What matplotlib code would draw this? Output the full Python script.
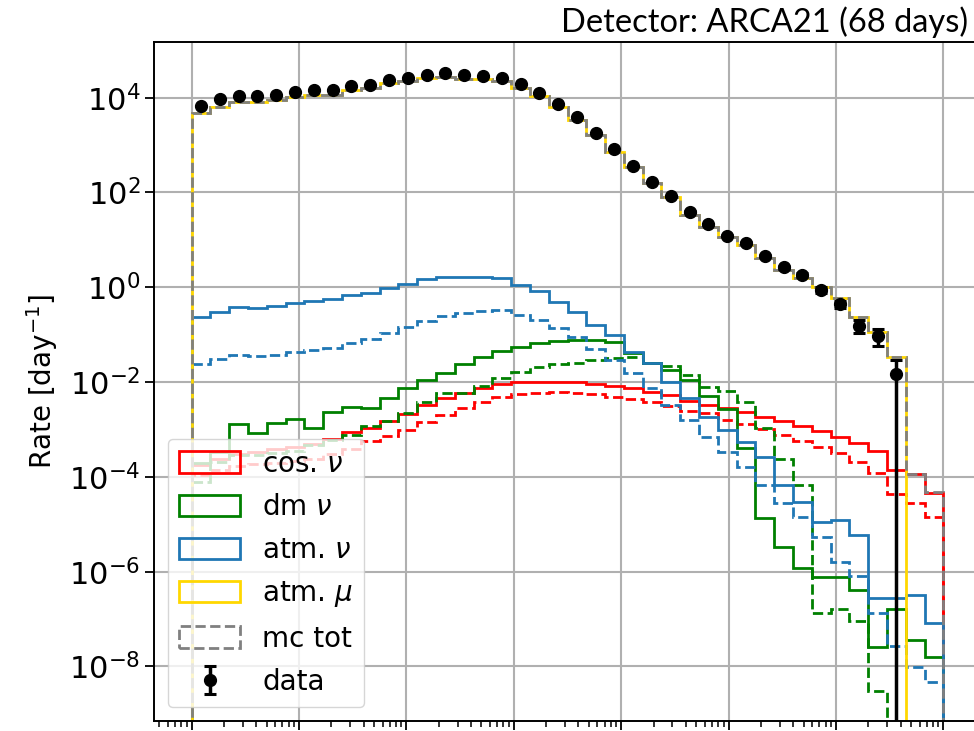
import numpy as np
import matplotlib.pyplot as plt
from matplotlib.ticker import LogLocator, NullLocator, FixedLocator

# 40 log-spaced energy bins over 7 decades (tick labels are cropped in the reference)
energy_edges = np.logspace(2, 9, 41)
energy_centres = np.sqrt(energy_edges[:-1] * energy_edges[1:])

# measured rate [1/day], 68 days of ARCA21 (last non-empty bin = 1 event)
data_rate = [6680, 9250, 11000, 10700, 11400, 13000, 14500, 14300, 17700, 18500,
             23300, 25600, 30100, 32700, 30500, 28700, 26400, 19200, 12400, 7300,
             3860, 1830, 828, 367, 169, 82.5, 39.4, 21.6, 12.3, 8.47,
             4.65, 2.64, 1.82, 0.877, 0.445, 0.153, 0.0953, 0.0147]
data_err = [9.9, 11.7, 12.7, 12.6, 12.9, 13.8, 14.6, 14.5, 16.1, 16.5,
            18.5, 19.4, 21.0, 21.9, 21.2, 20.5, 19.7, 16.8, 13.5, 10.4,
            7.5, 5.2, 3.5, 2.3, 1.58, 1.1, 0.76, 0.56, 0.42, 0.35,
            0.26, 0.20, 0.16, 0.114, 0.081, 0.047, 0.037, 0.0147]

atm_mu = [4690, 6270, 8240, 8240, 8930, 10500, 11400, 11400, 14500, 15800,
          20100, 22500, 25600, 26900, 24800, 24800, 22500, 15800, 11000, 6460,
          3380, 1630, 726, 350, 156, 78.5, 33.5, 19.0, 11.7, 7.82,
          4.17, 2.33, 1.58, 1.03, 0.586, 0.240, 0.112, 0.0333, 0, 0]

cos_nu = [1.78e-4, 2.40e-4, 3.02e-4, 3.39e-4, 3.80e-4, 4.17e-4, 5.01e-4, 6.31e-4, 8.91e-4, 1.07e-3,
          1.51e-3, 2.14e-3, 3.24e-3, 4.57e-3, 5.75e-3, 7.41e-3, 9.12e-3, 1.02e-2, 1.02e-2, 1.02e-2,
          1.00e-2, 8.91e-3, 8.32e-3, 7.41e-3, 6.31e-3, 5.25e-3, 3.98e-3, 3.31e-3, 2.88e-3, 2.29e-3,
          1.86e-3, 1.48e-3, 1.20e-3, 9.12e-4, 7.08e-4, 5.13e-4, 3.47e-4, 1.41e-4, 1.15e-4, 4.68e-5]
cos_nu_alt = [1.12e-4, 1.41e-4, 1.66e-4, 1.91e-4, 2.00e-4, 2.19e-4, 2.40e-4, 3.02e-4, 3.80e-4, 5.62e-4,
              7.41e-4, 9.77e-4, 1.45e-3, 2.04e-3, 2.82e-3, 3.89e-3, 4.90e-3, 5.62e-3, 6.03e-3, 6.31e-3,
              5.75e-3, 5.50e-3, 4.90e-3, 4.47e-3, 3.72e-3, 3.16e-3, 2.51e-3, 2.19e-3, 1.62e-3, 1.29e-3,
              1.00e-3, 7.59e-4, 5.75e-4, 4.37e-4, 3.16e-4, 2.09e-4, 1.20e-4, 4.37e-5, 2.88e-5, 1.45e-5]

dm_nu = [2.0e-4, 3.39e-4, 1.31e-3, 8.30e-4, 1.39e-3, 1.64e-3, 1.06e-3, 2.38e-3, 2.94e-3, 2.80e-3,
         4.68e-3, 7.41e-3, 0.0111, 0.0158, 0.0241, 0.0344, 0.0459, 0.0558, 0.0659, 0.0729,
         0.0773, 0.0773, 0.0692, 0.0417, 0.0249, 0.0180, 0.0112, 5.13e-3, 2.69e-3, 4.01e-4,
         1.34e-5, 3.37e-6, 1.18e-6, 7.59e-7, 7.59e-7, 4.11e-7, 2.62e-8, 1.61e-7, 3.62e-8, 1.61e-8]
dm_nu_alt = [7.94e-5, 2.04e-4, 2.88e-4, 2.88e-4, 3.16e-4, 3.55e-4, 4.68e-4, 6.03e-4, 7.59e-4, 1.17e-3,
             1.48e-3, 2.24e-3, 3.80e-3, 5.89e-3, 5.89e-3, 8.13e-3, 0.0120, 0.0166, 0.0212, 0.0240,
             0.0257, 0.0288, 0.0324, 0.0331, 0.0251, 0.0214, 0.0141, 7.94e-3, 6.61e-3, 3.72e-3,
             1.07e-3, 2.34e-4, 6.76e-5, 1.32e-7, 1.62e-7, 8.91e-8, 3.02e-9, 0, 0, 0]

atm_nu = [0.233, 0.297, 0.378, 0.361, 0.403, 0.473, 0.521, 0.566, 0.689, 0.769,
          0.953, 1.17, 1.48, 1.63, 1.67, 1.67, 1.55, 1.12, 0.847, 0.484,
          0.297, 0.164, 0.0966, 0.0422, 0.0249, 0.0102, 4.55e-3, 1.86e-3, 9.75e-4, 5.53e-4,
          2.67e-4, 6.75e-5, 3.00e-5, 1.14e-5, 1.23e-5, 5.94e-6, 2.75e-7, 2.75e-7, 3.23e-7, 8.15e-8]
atm_nu_alt = [0.0238, 0.0303, 0.0373, 0.0356, 0.0373, 0.0438, 0.0475, 0.0516, 0.0678, 0.0800,
              0.107, 0.143, 0.197, 0.248, 0.282, 0.316, 0.332, 0.261, 0.204, 0.141,
              0.0891, 0.0501, 0.0292, 0.0153, 7.40e-3, 3.29e-3, 1.58e-3, 7.05e-4, 3.40e-4, 1.64e-4,
              6.75e-5, 2.77e-5, 1.45e-5, 5.47e-6, 1.63e-6, 8.07e-7, 1.36e-7, 2.73e-8, 9.82e-9, 4.73e-9]

# total MC = sum of the components
mc_tot = np.array(atm_mu) + np.array(cos_nu) + np.array(dm_nu) + np.array(atm_nu)

fig = plt.figure(figsize=(9.74, 7.31), dpi=100)
ax = fig.add_axes([154 / 974, 10 / 731, 827 / 974, 679 / 731])
ax.set_xscale('log')
ax.set_yscale('log')

kw = dict(bins=energy_edges, histtype='step', linewidth=2.0)
ax.hist(energy_centres, weights=cos_nu, color='red', label=r'cos. $\nu$', **kw)
ax.hist(energy_centres, weights=cos_nu_alt, color='red', linestyle='--', **kw)
ax.hist(energy_centres, weights=dm_nu, color='green', label=r'dm $\nu$', **kw)
ax.hist(energy_centres, weights=dm_nu_alt, color='green', linestyle='--', **kw)
ax.hist(energy_centres, weights=atm_nu, color='tab:blue', label=r'atm. $\nu$', **kw)
ax.hist(energy_centres, weights=atm_nu_alt, color='tab:blue', linestyle='--', **kw)
ax.hist(energy_centres, weights=atm_mu, color='gold', label=r'atm. $\mu$', **kw)
ax.hist(energy_centres, weights=mc_tot, color='gray', linestyle='--', label='mc tot', **kw)
ax.errorbar(energy_centres[:len(data_rate)], data_rate, yerr=data_err, fmt='o', color='black',
            ms=8.5, elinewidth=2.5, capsize=4, capthick=2.2, label='data', zorder=5)

ax.set_xlim(10 ** 1.65, 10 ** 9.35)
ax.set_ylim(10 ** -9.15, 10 ** 5.175)
ax.yaxis.set_major_locator(FixedLocator([1e-8, 1e-6, 1e-4, 1e-2, 1e0, 1e2, 1e4]))
ax.yaxis.set_minor_locator(NullLocator())
ax.xaxis.set_major_locator(LogLocator(base=10, numticks=20))
ax.xaxis.set_minor_locator(LogLocator(base=10, subs=np.arange(2, 10), numticks=20))

ax.grid(True, which='major', color='#b0b0b0', linewidth=1.5)
ax.tick_params(which='major', length=6.5, width=1.3, labelsize=22)
ax.tick_params(which='minor', length=4, width=1.1)
# energy labels lie below the cropped edge of the original figure
ax.tick_params(axis='x', which='both', labelbottom=False)
for s in ax.spines.values():
    s.set_linewidth(1.4)

ax.set_ylabel('Rate [day$^{-1}$]', fontsize=20, labelpad=6)

ax.legend(loc='lower left', fontsize=20, handlelength=2.2, handleheight=0.8, labelspacing=0.55)

fig.text(968 / 974, 1 - 32 / 731, 'Detector: ARCA21 (68 days)', ha='right', va='baseline',
         fontsize=23.5, family='Lato', color='black')

fig.savefig('out.png', dpi=100)
